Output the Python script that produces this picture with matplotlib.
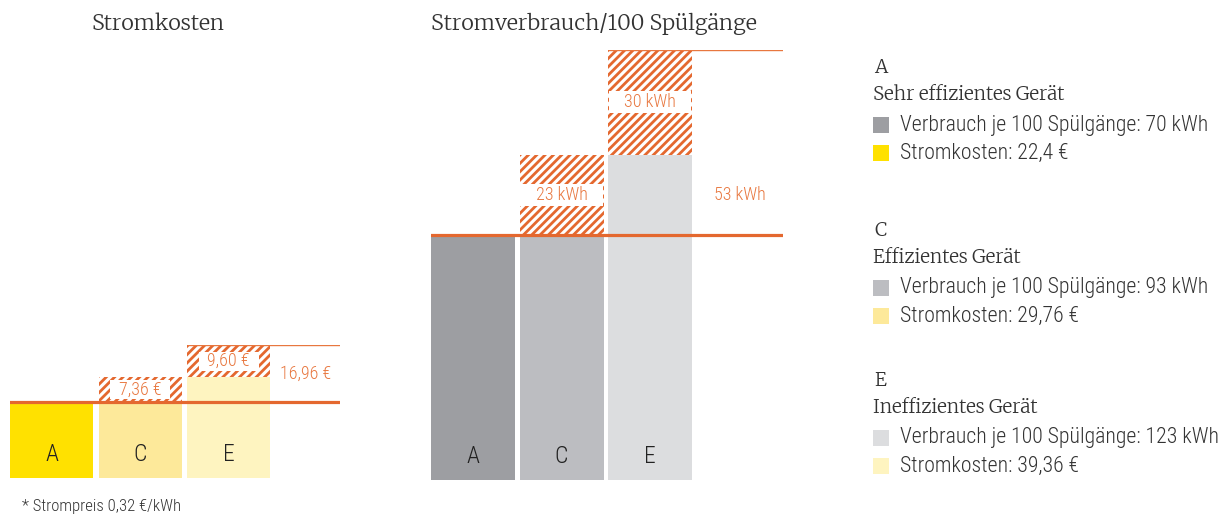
import matplotlib.pyplot as plt
import numpy as np
from matplotlib.patches import Rectangle

# Daten
klassen = ['A', 'C', 'E']
beschreibung = ['Sehr effizientes Gerät', 'Effizientes Gerät', 'Ineffizientes Gerät']
verbrauch = [70, 93, 123]          # kWh je 100 Spülgänge
kosten = [22.4, 29.76, 39.36]      # Euro
strompreis = 0.32                  # Euro/kWh

gelb = ['#FFE100', '#FDE99A', '#FEF4C0']
grau = ['#9D9EA2', '#BCBDC1', '#DCDDDF']
orange = '#E4682F'
orange_txt = '#E8773F'
dunkel = '#333333'

W, H = 1223, 515
plt.rcParams['hatch.linewidth'] = 2.0
SANS = ['Roboto Condensed', 'DejaVu Sans']
SERIF = ['Merriweather', 'DejaVu Serif']


def de(v, nd=None):
    s = f'{v:.{nd}f}' if nd is not None else f'{v:g}'
    return s.replace('.', ',')


def label_box(ax, x, y, w, h_px, txt):
    # weisses Feld im schraffierten Bereich, Höhe in Pixel umgerechnet
    y0, y1 = ax.get_ylim()
    per_px = (y1 - y0) / (ax.get_position().height * H)
    h = h_px * per_px
    ax.add_patch(Rectangle((x - w / 2, y - h / 2), w, h, fc='white', ec='none', zorder=3))
    ax.text(x, y, txt, ha='center', va='center', color=orange_txt,
            family=SANS, weight='light', fontsize=13, zorder=4)


def balken(ax, werte, farben, breite, einheit, box_w):
    werte = np.array(werte, dtype=float)
    x = np.arange(len(werte))
    basis = np.array([werte[0], werte[0], werte[1]])
    extra = werte - basis
    ax.bar(x, basis, width=breite, color=farben, lw=0, zorder=1)
    ax.bar(x[1:], extra[1:], bottom=basis[1:], width=breite, fc='white',
           ec=orange, lw=0, hatch='////', zorder=2)
    for xi, b, e in zip(x[1:], basis[1:], extra[1:]):
        label_box(ax, xi, b + e / 2, box_w, 19 if box_w < 0.8 else 22,
                  einheit(e))
    # Linien
    ax.axhline(werte[0], color=orange, lw=2.3, zorder=5)
    ax.plot([x[-1] - breite / 2, ax.get_xlim()[1]], [werte[-1], werte[-1]],
            color=orange_txt, lw=1.0, zorder=5, solid_capstyle='butt')
    for xi, k in zip(x, klassen):
        ax.annotate(k, (xi, 0), xytext=(0, 17), textcoords='offset points',
                    ha='center', va='center', family=SANS, weight='light',
                    fontsize=17, color='#222222', zorder=4)
    return x


fig = plt.figure(figsize=(W / 100, H / 100), dpi=100)

# Stromkosten
ax1 = fig.add_axes([10 / W, 37 / H, 330 / W, 133 / H])
ax1.set_xlim(-0.47, -0.47 + 330 / 88.5)
ax1.set_ylim(0, kosten[-1])
ax1.axis('off')
balken(ax1, kosten, gelb, 0.94, lambda v: de(v, 2) + ' €', 0.68)
ax1.text(2.87, (kosten[0] + kosten[-1]) / 2, de(kosten[-1] - kosten[0], 2) + ' €',
         ha='center', va='center', color=orange_txt, family=SANS,
         weight='light', fontsize=13)

# Stromverbrauch
ax2 = fig.add_axes([431 / W, 35 / H, 352 / W, 430 / H])
ax2.set_xlim(-0.475, -0.475 + 352 / 88.5)
ax2.set_ylim(0, verbrauch[-1])
ax2.axis('off')
balken(ax2, verbrauch, grau, 0.95, lambda v: f'{v:.0f} kWh', 0.93)
ax2.text(3.016, (verbrauch[0] + verbrauch[1]) / 2,
         f'{verbrauch[-1] - verbrauch[0]} kWh', ha='center', va='center',
         color=orange_txt, family=SANS, weight='light', fontsize=13)

# Titel
fig.text(158 / W, 1 - 24 / H, 'Stromkosten', ha='center', va='center',
         family=SERIF, weight='light', fontsize=15.5, color=dunkel)
fig.text(594 / W, 1 - 24 / H, 'Stromverbrauch/100 Spülgänge', ha='center',
         va='center', family=SERIF, weight='light', fontsize=15.5, color=dunkel)

# Legende
for i, y0 in enumerate([68, 231, 381]):
    fig.text(874 / W, 1 - y0 / H, klassen[i], ha='left', va='center',
             family=SERIF, weight='light', fontsize=13.6, color=dunkel)
    fig.text(873 / W, 1 - (y0 + 27) / H, beschreibung[i], ha='left',
             va='center', family=SERIF, weight='light', fontsize=13.6, color=dunkel)
    zeilen = [(grau[i], f'Verbrauch je 100 Spülgänge: {verbrauch[i]} kWh'),
              (gelb[i], f'Stromkosten: {de(kosten[i])} €')]
    for j, (farbe, txt) in enumerate(zeilen):
        yc = y0 + 57 + 28 * j
        fig.add_artist(Rectangle((873 / W, 1 - (yc + 8) / H), 16 / W, 16 / H,
                                 fc=farbe, ec='none', transform=fig.transFigure))
        fig.text(900 / W, 1 - yc / H, txt, ha='left', va='center',
                 family=SANS, weight='light', fontsize=15.7, color=dunkel)

fig.text(22 / W, 1 - 507 / H, f'* Strompreis {de(strompreis, 2)} €/kWh',
         ha='left', va='center', family=SANS, weight='light', fontsize=12,
         color=dunkel)

fig.savefig('out.png', dpi=100)
